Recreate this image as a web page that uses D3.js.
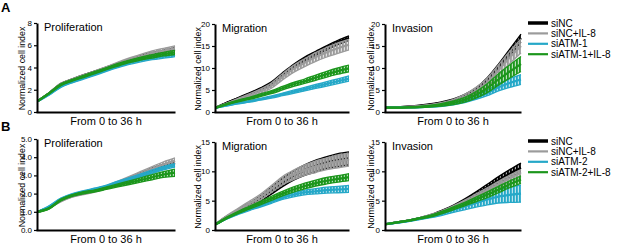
<!DOCTYPE html>
<html>
<head>
<meta charset="utf-8">
<script src="https://cdn.jsdelivr.net/npm/d3@7"></script>
<style>
  body { margin: 0; background: #fff; }
  text { font-family: "Liberation Sans", Arial, sans-serif; }
</style>
</head>
<body>
<div id="chart"></div>
<script>
/* time points (h) */
const hours = [0, 3, 6, 9, 12, 15, 18, 21, 24, 27, 30, 33, 36];

const seriesA = ["siNC", "siNC+IL-8", "siATM-1", "siATM-1+IL-8"];
const seriesB = ["siNC", "siNC+IL-8", "siATM-2", "siATM-2+IL-8"];
const colors = ["#000000", "#9b9b9b", "#25a8c8", "#1c961c"];

/* A - Proliferation : mean and sd, order siNC, siNC+IL-8, siATM-1, siATM-1+IL-8 */
const aProlifMean = [
    [1.0, 1.7, 2.5, 2.9, 3.25, 3.6, 3.95, 4.3, 4.65, 4.95, 5.2, 5.4, 5.6],
    [1.0, 1.7, 2.5, 2.9, 3.25, 3.6, 3.95, 4.35, 4.7, 5.0, 5.3, 5.5, 5.7],
    [1.0, 1.6, 2.3, 2.7, 3.05, 3.4, 3.75, 4.1, 4.4, 4.65, 4.85, 5.0, 5.15],
    [1.0, 1.7, 2.45, 2.85, 3.2, 3.55, 3.9, 4.25, 4.55, 4.8, 5.0, 5.2, 5.35]
];
const aProlifSd = [
    [0.05, 0.06, 0.08, 0.08, 0.1, 0.1, 0.1, 0.12, 0.12, 0.14, 0.15, 0.16, 0.18],
    [0.05, 0.06, 0.08, 0.08, 0.1, 0.1, 0.12, 0.14, 0.16, 0.18, 0.2, 0.22, 0.25],
    [0.05, 0.06, 0.08, 0.08, 0.1, 0.1, 0.1, 0.12, 0.12, 0.14, 0.15, 0.16, 0.18],
    [0.05, 0.06, 0.08, 0.08, 0.1, 0.1, 0.1, 0.12, 0.12, 0.14, 0.15, 0.16, 0.18]
];

/* A - Migration */
const aMigMean = [
    [1.0, 2.1, 3.1, 4.1, 5.2, 6.5, 8.5, 10.4, 12.0, 13.3, 14.6, 15.8, 16.8],
    [1.0, 1.9, 2.8, 3.7, 4.7, 6.0, 8.0, 9.8, 11.2, 12.5, 13.6, 14.5, 15.3],
    [1.0, 1.5, 2.0, 2.4, 2.9, 3.4, 4.0, 4.6, 5.2, 5.8, 6.4, 7.0, 7.6],
    [1.0, 1.8, 2.5, 3.1, 3.8, 4.5, 5.4, 6.3, 7.0, 7.8, 8.6, 9.3, 9.9]
];
const aMigSd = [
    [0.1, 0.15, 0.2, 0.25, 0.3, 0.35, 0.4, 0.45, 0.5, 0.5, 0.5, 0.5, 0.5],
    [0.1, 0.2, 0.3, 0.4, 0.5, 0.6, 0.7, 0.8, 0.9, 1.0, 1.1, 1.2, 1.2],
    [0.1, 0.12, 0.15, 0.18, 0.2, 0.25, 0.3, 0.35, 0.4, 0.45, 0.5, 0.55, 0.6],
    [0.1, 0.15, 0.2, 0.25, 0.3, 0.35, 0.4, 0.45, 0.5, 0.6, 0.65, 0.7, 0.75]
];

/* A - Invasion */
const aInvMean = [
    [1.0, 1.1, 1.2, 1.4, 1.7, 2.1, 2.7, 3.6, 5.0, 7.2, 10.2, 13.5, 16.8],
    [1.0, 1.05, 1.15, 1.3, 1.55, 1.9, 2.5, 3.4, 4.8, 6.7, 9.5, 12.4, 15.0],
    [1.0, 1.0, 1.05, 1.1, 1.25, 1.5, 1.9, 2.5, 3.3, 4.3, 5.6, 6.6, 7.4],
    [1.0, 1.0, 1.05, 1.15, 1.35, 1.65, 2.1, 2.8, 3.9, 5.4, 7.4, 9.2, 10.9]
];
const aInvSd = [
    [0.1, 0.1, 0.12, 0.15, 0.2, 0.25, 0.3, 0.4, 0.5, 0.6, 0.7, 0.8, 0.9],
    [0.1, 0.1, 0.12, 0.15, 0.2, 0.3, 0.4, 0.6, 0.8, 1.0, 1.2, 1.4, 1.6],
    [0.1, 0.1, 0.1, 0.12, 0.15, 0.2, 0.25, 0.35, 0.45, 0.6, 0.8, 1.0, 1.1],
    [0.1, 0.1, 0.12, 0.15, 0.2, 0.3, 0.4, 0.55, 0.75, 1.0, 1.3, 1.5, 1.7]
];

/* B - Proliferation */
const bProlifMean = [
    [1.0, 1.25, 1.65, 1.9, 2.05, 2.2, 2.35, 2.55, 2.8, 3.05, 3.3, 3.5, 3.7],
    [1.0, 1.25, 1.6, 1.85, 2.0, 2.15, 2.35, 2.6, 2.85, 3.1, 3.35, 3.6, 3.8],
    [1.0, 1.3, 1.7, 1.95, 2.1, 2.25, 2.4, 2.6, 2.8, 3.0, 3.2, 3.4, 3.55],
    [1.0, 1.2, 1.65, 1.9, 2.05, 2.15, 2.3, 2.45, 2.6, 2.75, 2.9, 3.05, 3.15]
];
const bProlifSd = [
    [0.03, 0.04, 0.05, 0.05, 0.06, 0.06, 0.07, 0.08, 0.08, 0.09, 0.1, 0.1, 0.1],
    [0.03, 0.04, 0.05, 0.05, 0.06, 0.07, 0.08, 0.09, 0.1, 0.12, 0.14, 0.15, 0.16],
    [0.03, 0.04, 0.05, 0.05, 0.06, 0.06, 0.07, 0.08, 0.08, 0.09, 0.1, 0.1, 0.1],
    [0.03, 0.04, 0.05, 0.05, 0.06, 0.06, 0.07, 0.08, 0.1, 0.12, 0.14, 0.16, 0.2]
];

/* B - Migration */
const bMigMean = [
    [1.0, 2.2, 3.2, 4.2, 5.3, 6.7, 8.1, 9.3, 10.2, 10.9, 11.5, 11.9, 12.2],
    [1.0, 2.3, 3.4, 4.5, 5.6, 7.0, 8.4, 9.4, 10.2, 10.8, 11.3, 11.7, 12.0],
    [1.0, 2.0, 2.8, 3.5, 4.1, 4.8, 5.5, 6.0, 6.4, 6.6, 6.8, 6.9, 7.0],
    [1.0, 2.1, 3.0, 3.8, 4.6, 5.4, 6.2, 6.9, 7.5, 8.0, 8.4, 8.7, 9.0]
];
const bMigSd = [
    [0.1, 0.2, 0.3, 0.4, 0.5, 0.6, 0.7, 0.8, 0.9, 1.0, 1.0, 1.1, 1.1],
    [0.1, 0.2, 0.3, 0.4, 0.5, 0.6, 0.7, 0.8, 0.9, 1.0, 1.0, 1.1, 1.1],
    [0.1, 0.12, 0.15, 0.18, 0.2, 0.25, 0.3, 0.35, 0.4, 0.45, 0.5, 0.55, 0.6],
    [0.1, 0.15, 0.2, 0.25, 0.3, 0.35, 0.4, 0.45, 0.5, 0.5, 0.55, 0.55, 0.6]
];

/* B - Invasion */
const bInvMean = [
    [1.0, 1.3, 1.6, 2.0, 2.5, 3.2, 4.0, 5.0, 6.1, 7.3, 8.5, 9.6, 10.6],
    [1.0, 1.3, 1.6, 2.0, 2.5, 3.1, 3.9, 4.8, 5.8, 6.8, 7.8, 8.8, 9.7],
    [1.0, 1.25, 1.55, 1.9, 2.3, 2.8, 3.4, 4.0, 4.6, 5.2, 5.7, 6.0, 6.2],
    [1.0, 1.3, 1.6, 2.0, 2.4, 3.0, 3.7, 4.4, 5.2, 6.0, 6.9, 7.8, 8.6]
];
const bInvSd = [
    [0.05, 0.08, 0.1, 0.12, 0.15, 0.2, 0.25, 0.3, 0.4, 0.5, 0.6, 0.7, 0.8],
    [0.05, 0.08, 0.1, 0.12, 0.15, 0.2, 0.25, 0.3, 0.35, 0.4, 0.5, 0.55, 0.6],
    [0.05, 0.08, 0.1, 0.15, 0.2, 0.3, 0.4, 0.55, 0.7, 0.9, 1.1, 1.3, 1.45],
    [0.05, 0.08, 0.1, 0.12, 0.15, 0.2, 0.25, 0.3, 0.4, 0.5, 0.55, 0.6, 0.65]
];

/* plot boxes (px) */
var plots = [
    { title: "Proliferation", mean: aProlifMean, sd: aProlifSd, max: 8, ticks: [0, 2, 4, 6, 8], x0: 37, x1: 175, top: 23, bottom: 112, lab: 22 },
    { title: "Migration", mean: aMigMean, sd: aMigSd, max: 20, ticks: [0, 5, 10, 15, 20], x0: 215, x1: 349, top: 24, bottom: 112, lab: 198 },
    { title: "Invasion", mean: aInvMean, sd: aInvSd, max: 20, ticks: [0, 5, 10, 15, 20], x0: 385, x1: 521, top: 24, bottom: 112, lab: 371 },
    { title: "Proliferation", mean: bProlifMean, sd: bProlifSd, max: 5, ticks: [0, 1, 2, 3, 4, 5], x0: 37, x1: 175, top: 139, bottom: 230, lab: 22 },
    { title: "Migration", mean: bMigMean, sd: bMigSd, max: 15, ticks: [0, 5, 10, 15], x0: 215, x1: 349, top: 142, bottom: 230, lab: 198 },
    { title: "Invasion", mean: bInvMean, sd: bInvSd, max: 15, ticks: [0, 5, 10, 15], x0: 385, x1: 521, top: 142, bottom: 230, lab: 371 }
];

var svg = d3.select("#chart")
    .append("svg")
    .attr("width", 617)
    .attr("height", 244);

/* vertical hatch patterns, to look like dense error bars */
var defs = svg.append("defs");
colors.forEach(function(c, i) {
    var p = defs.append("pattern")
        .attr("id", "hatch" + i)
        .attr("patternUnits", "userSpaceOnUse")
        .attr("width", 3)
        .attr("height", 4);
    p.append("rect")
        .attr("width", 3).attr("height", 4)
        .attr("fill", c).attr("fill-opacity", 0.3);
    p.append("rect")
        .attr("x", 0).attr("width", 1.8).attr("height", 4)
        .attr("fill", c);
});

/* panel letters */
svg.append("text").attr("x", 1).attr("y", 12)
    .style("font-size", "13px").style("font-weight", "bold").text("A");
svg.append("text").attr("x", 1).attr("y", 131)
    .style("font-size", "13px").style("font-weight", "bold").text("B");

plots.forEach(function(p) {
    var g = svg.append("g");

    var x = d3.scaleLinear().domain([0, 36]).range([p.x0 + 1, p.x1]);
    var y = d3.scaleLinear().domain([0, p.max]).range([p.bottom, p.top]);

    /* series: black, gray, cyan, green (green on top) */
    p.mean.forEach(function(m, k) {
        var pts = hours.map(function(h, i) { return { t: h, v: m[i], s: p.sd[k][i] }; });

        var band = d3.area()
            .x(function(d) { return x(d.t); })
            .y0(function(d) { return y(d.v - d.s); })
            .y1(function(d) { return y(d.v + d.s); })
            .curve(d3.curveMonotoneX);
        g.append("path")
            .datum(pts)
            .attr("d", band)
            .attr("fill", "url(#hatch" + k + ")");

        [1, -1].forEach(function(sign) {
            g.append("path")
                .datum(pts)
                .attr("d", d3.line()
                    .x(function(d) { return x(d.t); })
                    .y(function(d) { return y(d.v + sign * d.s); })
                    .curve(d3.curveMonotoneX))
                .attr("fill", "none")
                .attr("stroke", colors[k])
                .attr("stroke-width", 1.3);
        });

        g.append("path")
            .datum(pts)
            .attr("d", d3.line()
                .x(function(d) { return x(d.t); })
                .y(function(d) { return y(d.v); })
                .curve(d3.curveMonotoneX))
            .attr("fill", "none")
            .attr("stroke", colors[k])
            .attr("stroke-width", 2.2);
    });

    /* y axis */
    var ya = g.append("g")
        .attr("transform", "translate(" + p.x0 + ",0)")
        .call(d3.axisLeft(y).tickValues(p.ticks).tickSize(3).tickPadding(2).tickSizeOuter(0));
    ya.select(".domain").attr("stroke-width", 2);
    ya.selectAll(".tick line").attr("stroke-width", 1.2);
    ya.selectAll(".tick text")
        .style("font-family", "Liberation Sans, Arial, sans-serif")
        .style("font-size", "8px")
        .attr("fill", "#000");

    /* x axis: plain line */
    var xa = g.append("g")
        .attr("transform", "translate(0," + p.bottom + ")")
        .call(d3.axisBottom(d3.scaleLinear().domain([0, 36]).range([p.x0 - 1, p.x1])).tickValues([]).tickSizeOuter(0));
    xa.select(".domain").attr("stroke-width", 2);

    /* titles and labels */
    g.append("text")
        .attr("x", p.x0 + 7)
        .attr("y", p.top + 8)
        .style("font-size", "11px")
        .text(p.title);

    g.append("text")
        .attr("x", (p.x0 + p.x1) / 2)
        .attr("y", p.bottom + 13)
        .attr("text-anchor", "middle")
        .style("font-size", "11px")
        .text("From 0 to 36 h");

    g.append("text")
        .attr("transform", "translate(" + (p.lab + 3) + "," + ((p.top + p.bottom) / 2 + 1) + ") rotate(-90)")
        .attr("text-anchor", "middle")
        .style("font-size", "8.8px")
        .text("Normalized cell index");
});

/* legends */
[[seriesA, 23], [seriesB, 141]].forEach(function(l) {
    var lg = svg.append("g").attr("transform", "translate(528," + l[1] + ")");
    l[0].forEach(function(name, i) {
        lg.append("line")
            .attr("x1", 0).attr("x2", 20)
            .attr("y1", i * 10.4).attr("y2", i * 10.4)
            .attr("stroke", colors[i])
            .attr("stroke-width", i == 0 ? 3.5 : 2.2);
        lg.append("text")
            .attr("x", 23)
            .attr("y", i * 10.4)
            .attr("dy", "0.35em")
            .style("font-size", "10px")
            .text(name);
    });
});
</script>
</body>
</html>
